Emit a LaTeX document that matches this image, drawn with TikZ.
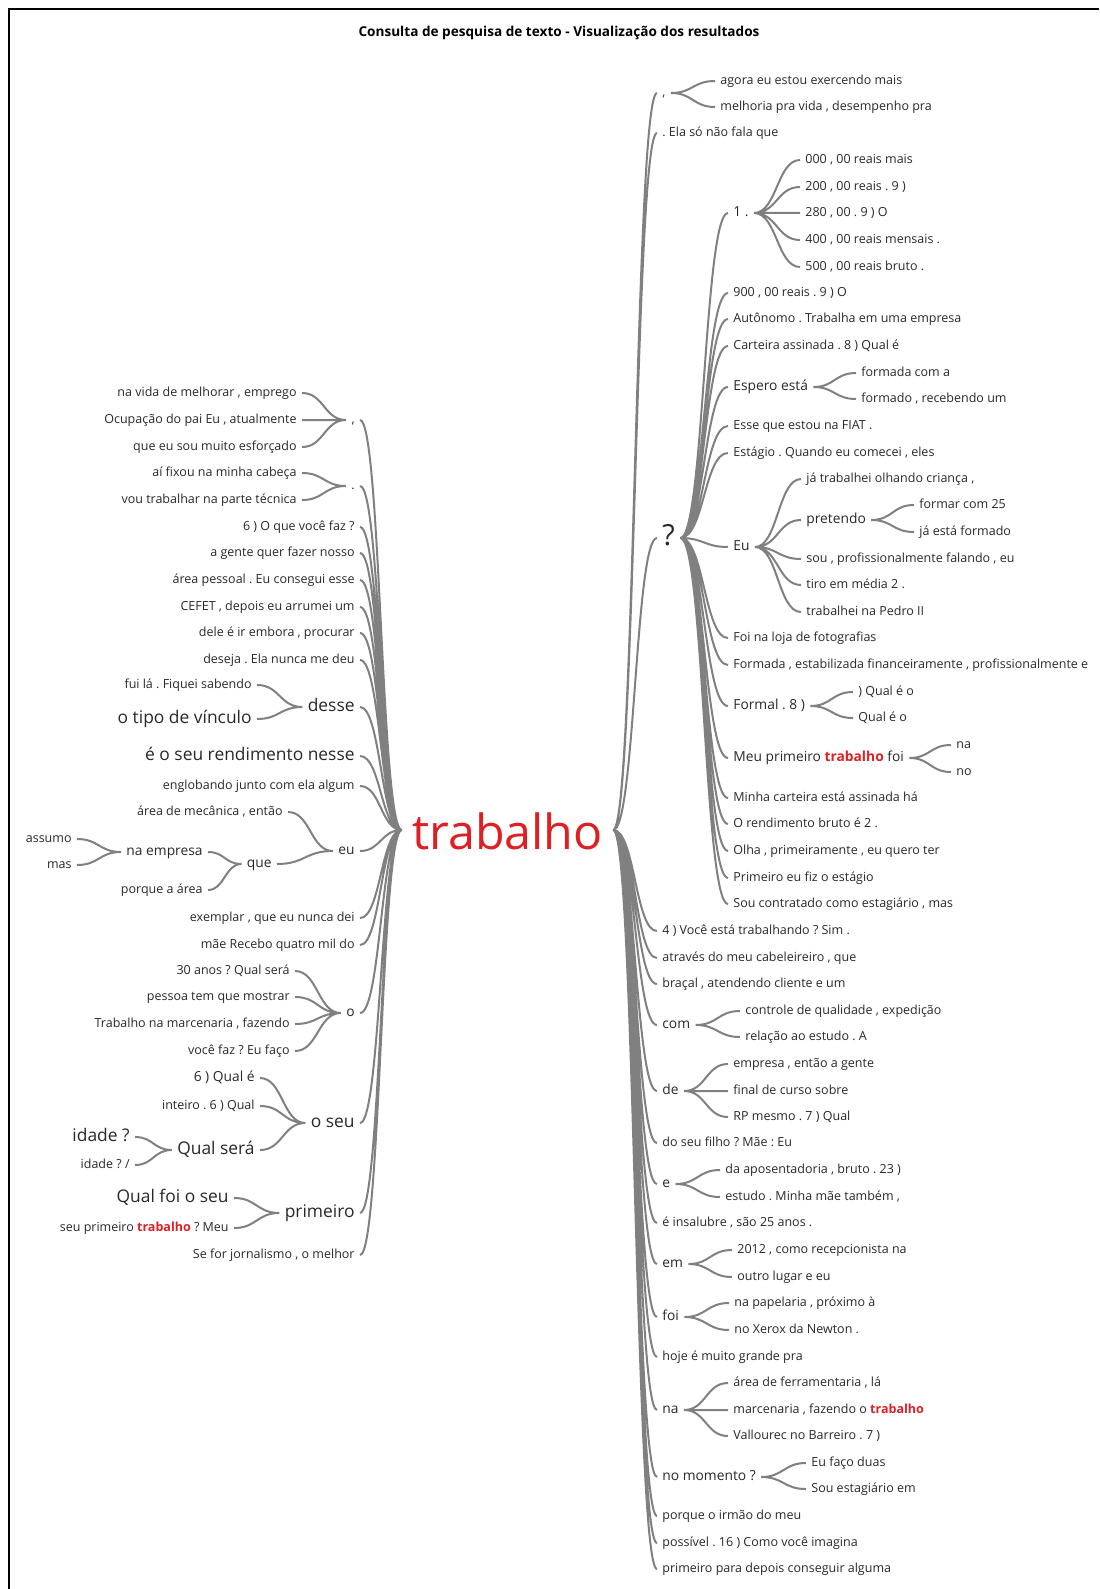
\documentclass[tikz,border=0pt]{standalone}
\usepackage{fontspec}
\setmainfont{Open Sans}
\usepackage{tikz}
\usetikzlibrary{calc}
\frenchspacing

\definecolor{hitred}{RGB}{222,32,36}
\definecolor{wiregray}{RGB}{128,128,128}
\definecolor{txtgray}{RGB}{40,40,40}
\newcommand{\kwhit}[1]{\textcolor{hitred}{\bfseries #1}}

\begin{document}
\begin{tikzpicture}[
    x=0.5pt, y=-0.5pt,
    every node/.style={inner xsep=2.5pt, inner ysep=0pt, text=txtgray},
    wsm/.style={font=\fontsize{6.25}{7}\selectfont, text height=4.7pt, text depth=1.4pt},
    wmd/.style={font=\fontsize{6.9}{8}\selectfont, text height=5.2pt, text depth=1.5pt},
    wbg/.style={font=\fontsize{8.7}{10}\selectfont, text height=6.5pt, text depth=1.9pt},
    wq/.style={font=\fontsize{14.5}{16}\selectfont, text height=10.9pt, text depth=3.2pt},
    rt/.style={anchor=west},
    lt/.style={anchor=east},
    wire/.style={draw=wiregray, line width=1pt,
      to path={let \p1=(\tikztostart), \p2=(\tikztotarget) in
               .. controls ({(\x1+\x2)/2},\y1) and ({(\x1+\x2)/2},\y2) .. (\tikztotarget)}}
  ]
  \useasboundingbox (0,0) rectangle (1099,1589);
  \draw[line width=1pt] (8.5,1589) -- (8.5,9.5) -- (1099,9.5);

  \node[font=\bfseries\fontsize{6.8}{8}\selectfont, text=black] (title) at (559,33)
       {Consulta de pesquisa de texto - Visualização dos resultados};

  \node[font=\fontsize{24.2}{28}\selectfont, text=hitred, inner xsep=5pt,
        text height=19.6pt, text depth=0pt] (kw) at (507.5,830) {trabalho};

  %% right-hand branches
  \node[wsm, rt] (r1) at (657,93) {,};
  \node[wsm, rt] (r1a) at (715,81) {agora eu estou exercendo mais};
  \node[wsm, rt] (r1b) at (715,107) {melhoria pra vida , desempenho pra};
  \node[wsm, rt] (r2) at (657,133) {. Ela só não fala que};
  \node[wq, rt] (r3) at (657,538) {?};
  \node[wmd, rt] (r3a) at (728,213) {1 .};
  \node[wsm, rt] (r3a1) at (800,160) {000 , 00 reais mais};
  \node[wsm, rt] (r3a2) at (800,187) {200 , 00 reais . 9 )};
  \node[wsm, rt] (r3a3) at (800,213) {280 , 00 . 9 ) O};
  \node[wsm, rt] (r3a4) at (800,240) {400 , 00 reais mensais .};
  \node[wsm, rt] (r3a5) at (800,267) {500 , 00 reais bruto .};
  \node[wsm, rt] (r3b) at (728,293) {900 , 00 reais . 9 ) O};
  \node[wsm, rt] (r3c) at (728,319) {Autônomo . Trabalha em uma empresa};
  \node[wsm, rt] (r3d) at (728,346) {Carteira assinada . 8 ) Qual é};
  \node[wmd, rt] (r3e) at (728,387) {Espero está};
  \node[wsm, rt] (r3e1) at (856,373) {formada com a};
  \node[wsm, rt] (r3e2) at (856,399) {formado , recebendo um};
  \node[wsm, rt] (r3f) at (728,426) {Esse que estou na FIAT .};
  \node[wsm, rt] (r3g) at (728,453) {Estágio . Quando eu comecei , eles};
  \node[wmd, rt] (r3h) at (728,547) {Eu};
  \node[wsm, rt] (r3h1) at (801,479) {já trabalhei olhando criança ,};
  \node[wmd, rt] (r3h2) at (801,520) {pretendo};
  \node[wsm, rt] (r3h2a) at (914,505) {formar com 25};
  \node[wsm, rt] (r3h2b) at (914,532) {já está formado};
  \node[wsm, rt] (r3h3) at (801,559) {sou , profissionalmente falando , eu};
  \node[wsm, rt] (r3h4) at (801,585) {tiro em média 2 .};
  \node[wsm, rt] (r3h5) at (801,612) {trabalhei na Pedro II};
  \node[wsm, rt] (r3i) at (728,638) {Foi na loja de fotografias};
  \node[wsm, rt] (r3j) at (728,665) {Formada , estabilizada financeiramente , profissionalmente e};
  \node[wmd, rt] (r3k) at (728,706) {Formal . 8 )};
  \node[wsm, rt] (r3k1) at (853,692) {) Qual é o};
  \node[wsm, rt] (r3k2) at (853,718) {Qual é o};
  \node[wmd, rt] (r3l) at (728,758) {Meu primeiro \kwhit{trabalho} foi};
  \node[wsm, rt] (r3l1) at (951,745) {na};
  \node[wsm, rt] (r3l2) at (951,772) {no};
  \node[wsm, rt] (r3m) at (728,798) {Minha carteira está assinada há};
  \node[wsm, rt] (r3n) at (728,824) {O rendimento bruto é 2 .};
  \node[wsm, rt] (r3o) at (728,851) {Olha , primeiramente , eu quero ter};
  \node[wsm, rt] (r3p) at (728,878) {Primeiro eu fiz o estágio};
  \node[wsm, rt] (r3q) at (728,904) {Sou contratado como estagiário , mas};
  \node[wsm, rt] (r4) at (657,931) {4 ) Você está trabalhando ? Sim .};
  \node[wsm, rt] (r5) at (657,958) {através do meu cabeleireiro , que};
  \node[wsm, rt] (r6) at (657,984) {braçal , atendendo cliente e um};
  \node[wmd, rt] (r7) at (657,1025) {com};
  \node[wsm, rt] (r7a) at (740,1011) {controle de qualidade , expedição};
  \node[wsm, rt] (r7b) at (740,1037) {relação ao estudo . A};
  \node[wmd, rt] (r8) at (657,1091) {de};
  \node[wsm, rt] (r8a) at (728,1064) {empresa , então a gente};
  \node[wsm, rt] (r8b) at (728,1091) {final de curso sobre};
  \node[wsm, rt] (r8c) at (728,1117) {RP mesmo . 7 ) Qual};
  \node[wsm, rt] (r9) at (657,1143) {do seu filho ? Mãe : Eu};
  \node[wmd, rt] (r10) at (657,1184) {e};
  \node[wsm, rt] (r10a) at (720,1170) {da aposentadoria , bruto . 23 )};
  \node[wsm, rt] (r10b) at (720,1197) {estudo . Minha mãe também ,};
  \node[wsm, rt] (r11) at (657,1223) {é insalubre , são 25 anos .};
  \node[wmd, rt] (r12) at (657,1264) {em};
  \node[wsm, rt] (r12a) at (732,1250) {2012 , como recepcionista na};
  \node[wsm, rt] (r12b) at (732,1277) {outro lugar e eu};
  \node[wmd, rt] (r13) at (657,1317) {foi};
  \node[wsm, rt] (r13a) at (729,1303) {na papelaria , próximo à};
  \node[wsm, rt] (r13b) at (729,1330) {no Xerox da Newton .};
  \node[wsm, rt] (r14) at (657,1357) {hoje é muito grande pra};
  \node[wmd, rt] (r15) at (657,1410) {na};
  \node[wsm, rt] (r15a) at (728,1383) {área de ferramentaria , lá};
  \node[wsm, rt] (r15b) at (728,1410) {marcenaria , fazendo o \kwhit{trabalho}};
  \node[wsm, rt] (r15c) at (728,1436) {Vallourec no Barreiro . 7 )};
  \node[wmd, rt] (r16) at (657,1477) {no momento ?};
  \node[wsm, rt] (r16a) at (806,1463) {Eu faço duas};
  \node[wsm, rt] (r16b) at (806,1489) {Sou estagiário em};
  \node[wsm, rt] (r17) at (657,1516) {porque o irmão do meu};
  \node[wsm, rt] (r18) at (657,1543) {possível . 16 ) Como você imagina};
  \node[wsm, rt] (r19) at (657,1569) {primeiro para depois conseguir alguma};

  %% left-hand branches
  \node[wsm, lt] (l1) at (360,420) {,};
  \node[wsm, lt] (l1a) at (302,393) {na vida de melhorar , emprego};
  \node[wsm, lt] (l1b) at (302,420) {Ocupação do pai Eu , atualmente};
  \node[wsm, lt] (l1c) at (302,447) {que eu sou muito esforçado};
  \node[wsm, lt] (l2) at (360,486) {.};
  \node[wsm, lt] (l2a) at (302,473) {aí fixou na minha cabeça};
  \node[wsm, lt] (l2b) at (302,500) {vou trabalhar na parte técnica};
  \node[wsm, lt] (l3) at (360,527) {6 ) O que você faz ?};
  \node[wsm, lt] (l4) at (360,553) {a gente quer fazer nosso};
  \node[wsm, lt] (l5) at (360,580) {área pessoal . Eu consegui esse};
  \node[wsm, lt] (l6) at (360,607) {CEFET , depois eu arrumei um};
  \node[wsm, lt] (l7) at (360,633) {dele é ir embora , procurar};
  \node[wsm, lt] (l8) at (360,660) {deseja . Ela nunca me deu};
  \node[wbg, lt] (l9) at (360,707) {desse};
  \node[wsm, lt] (l9a) at (257,685) {fui lá . Fiquei sabendo};
  \node[wbg, lt] (l9b) at (257,719) {o tipo de vínculo};
  \node[wbg, lt] (l10) at (360,756) {é o seu rendimento nesse};
  \node[wsm, lt] (l11) at (360,786) {englobando junto com ela algum};
  \node[wmd, lt] (l12) at (360,851) {eu};
  \node[wsm, lt] (l12a) at (288,812) {área de mecânica , então};
  \node[wmd, lt] (l12b) at (277,864) {que};
  \node[wmd, lt] (l12b1) at (208,852) {na empresa};
  \node[wsm, lt] (l12b1a) at (77,839) {assumo};
  \node[wsm, lt] (l12b1b) at (77,865) {mas};
  \node[wsm, lt] (l12b2) at (208,890) {porque a área};
  \node[wsm, lt] (l13) at (360,918) {exemplar , que eu nunca dei};
  \node[wsm, lt] (l14) at (360,945) {mãe Recebo quatro mil do};
  \node[wmd, lt] (l15) at (360,1013) {o};
  \node[wsm, lt] (l15a) at (295,971) {30 anos ? Qual será};
  \node[wsm, lt] (l15b) at (295,997) {pessoa tem que mostrar};
  \node[wsm, lt] (l15c) at (295,1024) {Trabalho na marcenaria , fazendo};
  \node[wsm, lt] (l15d) at (295,1051) {você faz ? Eu faço};
  \node[wbg, lt] (l16) at (360,1123) {o seu};
  \node[wmd, lt] (l16a) at (260,1078) {6 ) Qual é};
  \node[wsm, lt] (l16b) at (260,1106) {inteiro . 6 ) Qual};
  \node[wbg, lt] (l16c) at (260,1150) {Qual será};
  \node[wbg, lt] (l16c1) at (135,1137) {idade ?};
  \node[wsm, lt] (l16c2) at (135,1165) {idade ? /};
  \node[wbg, lt] (l17) at (360,1213) {primeiro};
  \node[wbg, lt] (l17a) at (234,1198) {Qual foi o seu};
  \node[wsm, lt] (l17b) at (234,1228) {seu primeiro \kwhit{trabalho} ? Meu};
  \node[wsm, lt] (l18) at (360,1255) {Se for jornalismo , o melhor};

  %% spine to the right
  \draw[wire] (kw.east) to (r1.west) (kw.east) to (r2.west) (kw.east) to (r3.west)
              (kw.east) to (r4.west) (kw.east) to (r5.west) (kw.east) to (r6.west)
              (kw.east) to (r7.west) (kw.east) to (r8.west) (kw.east) to (r9.west)
              (kw.east) to (r10.west) (kw.east) to (r11.west) (kw.east) to (r12.west)
              (kw.east) to (r13.west) (kw.east) to (r14.west) (kw.east) to (r15.west)
              (kw.east) to (r16.west) (kw.east) to (r17.west) (kw.east) to (r18.west)
              (kw.east) to (r19.west);
  \draw[wire] (r1.east) to (r1a.west) (r1.east) to (r1b.west);
  \draw[wire] (r3.east) to (r3a.west) (r3.east) to (r3b.west) (r3.east) to (r3c.west)
              (r3.east) to (r3d.west) (r3.east) to (r3e.west) (r3.east) to (r3f.west)
              (r3.east) to (r3g.west) (r3.east) to (r3h.west) (r3.east) to (r3i.west)
              (r3.east) to (r3j.west) (r3.east) to (r3k.west) (r3.east) to (r3l.west)
              (r3.east) to (r3m.west) (r3.east) to (r3n.west) (r3.east) to (r3o.west)
              (r3.east) to (r3p.west) (r3.east) to (r3q.west);
  \draw[wire] (r3a.east) to (r3a1.west) (r3a.east) to (r3a2.west) (r3a.east) to (r3a3.west)
              (r3a.east) to (r3a4.west) (r3a.east) to (r3a5.west);
  \draw[wire] (r3e.east) to (r3e1.west) (r3e.east) to (r3e2.west);
  \draw[wire] (r3h.east) to (r3h1.west) (r3h.east) to (r3h2.west) (r3h.east) to (r3h3.west)
              (r3h.east) to (r3h4.west) (r3h.east) to (r3h5.west);
  \draw[wire] (r3h2.east) to (r3h2a.west) (r3h2.east) to (r3h2b.west);
  \draw[wire] (r3k.east) to (r3k1.west) (r3k.east) to (r3k2.west);
  \draw[wire] (r3l.east) to (r3l1.west) (r3l.east) to (r3l2.west);
  \draw[wire] (r7.east) to (r7a.west) (r7.east) to (r7b.west);
  \draw[wire] (r8.east) to (r8a.west) (r8.east) to (r8b.west) (r8.east) to (r8c.west);
  \draw[wire] (r10.east) to (r10a.west) (r10.east) to (r10b.west);
  \draw[wire] (r12.east) to (r12a.west) (r12.east) to (r12b.west);
  \draw[wire] (r13.east) to (r13a.west) (r13.east) to (r13b.west);
  \draw[wire] (r15.east) to (r15a.west) (r15.east) to (r15b.west) (r15.east) to (r15c.west);
  \draw[wire] (r16.east) to (r16a.west) (r16.east) to (r16b.west);

  %% spine to the left
  \draw[wire] (kw.west) to (l1.east) (kw.west) to (l2.east) (kw.west) to (l3.east)
              (kw.west) to (l4.east) (kw.west) to (l5.east) (kw.west) to (l6.east)
              (kw.west) to (l7.east) (kw.west) to (l8.east) (kw.west) to (l9.east)
              (kw.west) to (l10.east) (kw.west) to (l11.east) (kw.west) to (l12.east)
              (kw.west) to (l13.east) (kw.west) to (l14.east) (kw.west) to (l15.east)
              (kw.west) to (l16.east) (kw.west) to (l17.east) (kw.west) to (l18.east);
  \draw[wire] (l1.west) to (l1a.east) (l1.west) to (l1b.east) (l1.west) to (l1c.east);
  \draw[wire] (l2.west) to (l2a.east) (l2.west) to (l2b.east);
  \draw[wire] (l9.west) to (l9a.east) (l9.west) to (l9b.east);
  \draw[wire] (l12.west) to (l12a.east) (l12.west) to (l12b.east);
  \draw[wire] (l12b.west) to (l12b1.east) (l12b.west) to (l12b2.east);
  \draw[wire] (l12b1.west) to (l12b1a.east) (l12b1.west) to (l12b1b.east);
  \draw[wire] (l15.west) to (l15a.east) (l15.west) to (l15b.east) (l15.west) to (l15c.east)
              (l15.west) to (l15d.east);
  \draw[wire] (l16.west) to (l16a.east) (l16.west) to (l16b.east) (l16.west) to (l16c.east);
  \draw[wire] (l16c.west) to (l16c1.east) (l16c.west) to (l16c2.east);
  \draw[wire] (l17.west) to (l17a.east) (l17.west) to (l17b.east);
\end{tikzpicture}
\end{document}
